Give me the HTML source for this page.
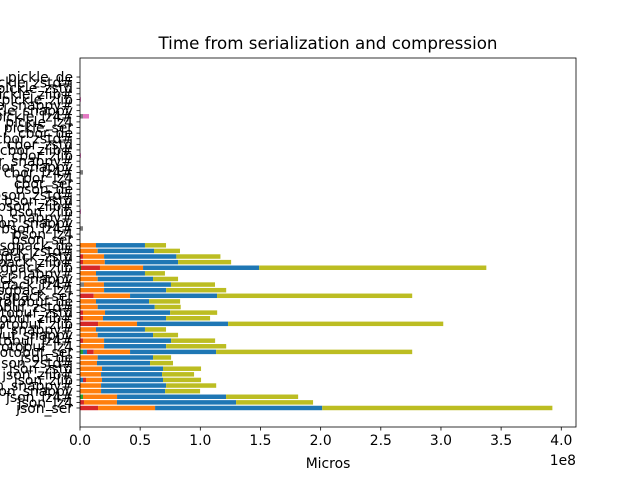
<!DOCTYPE html>
<html><head><meta charset="utf-8"><style>
html,body{margin:0;padding:0;background:#fff}
svg{display:block;font-family:"DejaVu Sans","Liberation Sans",sans-serif}
</style></head><body>
<svg id="chart" width="640" height="480" viewBox="0 0 640 480" xmlns="http://www.w3.org/2000/svg">
<rect x="0" y="0" width="640" height="480" fill="#fff"/>
<text x="328" y="49" font-size="16.7" text-anchor="middle">Time from serialization and compression</text>
<g id="plot"></g>
<text x="328" y="468" font-size="13.9" text-anchor="middle">Micros</text>
<text x="576" y="465" font-size="13.9" text-anchor="end">1e8</text>
</svg>
<script>
const formats = ["json","protobuf","msgpack","bson","cbor","pickle"];
const suffixes = ["_ser","_lz4","_lz4#","_snappy","_snappy#","_zlib","_zlib#","_zstd","_zstd#","_de"];
// values in units of 1e6 micros, index = row (bottom to top)
const greenVals  = [0,0,2.5,0,0,0,0,0,0,0, 2.5,0,0,0,0,0,0,0,0,0, 0,0,0,0,0,0.8,0,0,0,0];
const grayVals   = [0,0,0,0,0,0,0,0,0,0, 0,0,0,0,0,0,0,0,0,0, 0,0,3.3,0,0,0,0,0,0,0, 0,0,2.5,0,0,0,0,0,0,0, 0,0,2.5,0,0,0,0,0,0,0, 0,0,2.5,0,0,0,0,0,0,0];
const preVals    = [0,0,0,0,0,2.5,0,0,0,0, 3.3,0,0,0,0,0,0,0,0,0, 0,0,0,0,0,0,0,0,0,0];
const redVals    = [15.0,3.3,0,0,0,2.5,0,0,0,0, 5.6,0,2.5,0,0,15.0,2.5,2.5,0,0, 11.4,0,0,0,0,15.8,2.5,2.5,0,0];
const orangeVals = [47.4,27.4,28.3,17.5,17.5,13.3,17.5,18.3,14.1,14.7, 30.2,20.0,17.5,14.7,13.3,32.4,16.6,18.3,14.7,13.3, 30.2,20.0,16.6,14.7,13.3,35.8,18.1,17.5,14.7,13.3];
const blueVals   = [138.9,99.0,90.6,53.2,54.1,50.7,50.7,50.7,44.1,46.0, 71.5,51.6,55.7,46.0,40.7,75.7,52.4,54.1,47.4,44.1, 72.3,51.6,55.7,46.0,40.7,96.5,60.9,60.1,46.8,40.7];
const oliveVals  = [191.3,64.0,59.9,29.1,41.6,31.6,26.6,31.6,19.1,15.0, 163.0,49.9,36.6,20.8,17.5,178.8,36.6,39.1,21.6,25.8, 162.2,49.9,36.6,20.8,16.6,188.8,44.1,36.6,21.6,17.5];
const pinkVals   = [0,0,0,0,0,0,0,0,0,0, 0,0,0,0,0,0,0,0,0,0, 0,0,0,0,0,0,0,0,0,0, 0,0,0,0,0,0.8,0,0,0,0, 0,0,0,0,0,0.8,0,0,0,0, 0,0,5.0,0,0,0.8,0,0,0,0];
const xTicks = [0,0.5,1.0,1.5,2.0,2.5,3.0,3.5,4.0];

const NS="http://www.w3.org/2000/svg";
const plot=document.getElementById('plot');
const L=80,R=576,T=58,B=427;
const categories=[];
formats.forEach(f=>suffixes.forEach(s=>categories.push(f+s)));
const n=categories.length;
const series=[["green",greenVals,"#2ca02c"],["gray",grayVals,"#7f7f7f"],["pre",preVals,"#1f77b4"],["red",redVals,"#d62728"],["orange",orangeVals,"#ff7f0e"],["blue",blueVals,"#1f77b4"],["olive",oliveVals,"#bcbd22"],["pink",pinkVals,"#e377c2"]];
let maxTot=0;
for(let i=0;i<n;i++){let t=0;series.forEach(s=>t+=(s[1][i]||0));maxTot=Math.max(maxTot,t);}
const xmax=maxTot*1.05/100;
const xs=v=>L+(v/100)/xmax*(R-L);
const xt=v=>L+v/xmax*(R-L);
const ymin=-0.4-(n-1+0.8)*0.05, ymax=n-1+0.4+(n-1+0.8)*0.05;
const ys=v=>B-(v-ymin)/(ymax-ymin)*(B-T);
const bh=0.8*(B-T)/(ymax-ymin);
function mk(tag,attrs){const e=document.createElementNS(NS,tag);for(const k in attrs)e.setAttribute(k,attrs[k]);plot.appendChild(e);return e;}
for(let i=0;i<n;i++){
  let acc=0;
  series.forEach(s=>{
    const v=s[1][i]||0;
    if(v>0){
      const r=mk('rect',{x:xs(acc),y:ys(i)-bh/2,width:xs(acc+v)-xs(acc),height:bh,fill:s[2]});
      
      
    }
    acc+=v;
  });
}
const frame=mk('rect',{x:L,y:T,width:R-L,height:B-T,fill:'none',stroke:'#000','stroke-width':0.8});


xTicks.forEach(t=>{
  const x=xt(t);
  const tk=mk('line',{x1:x,x2:x,y1:B,y2:B+3.5,stroke:'#000','stroke-width':0.8});
  
  
  const tl=mk('text',{x:x,y:B+18,'font-size':13.9,'text-anchor':'middle'});
  tl.textContent=t.toFixed(1);
  
  
});
categories.forEach((c,i)=>{
  const y=ys(i);
  const tk=mk('line',{x1:L-3.5,x2:L,y1:y,y2:y,stroke:'#000','stroke-width':0.8});
  
  
  const tl=mk('text',{x:L-7,y:y+5,'font-size':13.9,'text-anchor':'end'});
  tl.textContent=c;
  
  
});
</script>
</body></html>
